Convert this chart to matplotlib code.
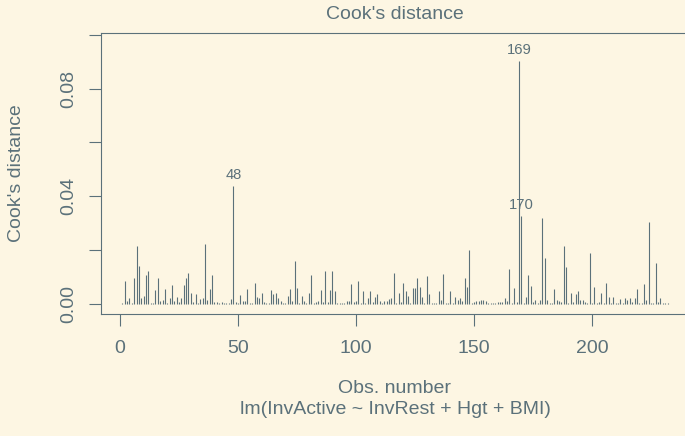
import numpy as np
from matplotlib import pyplot as plt

cooks_d = [
    0.0003, 0.0084, 0.0009, 0.0019, 0.0004, 0.0095, 0.0215, 0.0141, 0.0022, 0.0030,
    0.0105, 0.0122, 0.0004, 0.0002, 0.0052, 0.0096, 0.0011, 0.0012, 0.0056, 0.0004,
    0.0022, 0.0070, 0.0011, 0.0025, 0.0005, 0.0020, 0.0068, 0.0096, 0.0115, 0.0040,
    0.0007, 0.0035, 0.0004, 0.0017, 0.0020, 0.0221, 0.0015, 0.0054, 0.0108, 0.0006,
    0.0007, 0.0001, 0.0006, 0.0002, 0.0001, 0.0002, 0.0016, 0.0437, 0.0006, 0.0001,
    0.0032, 0.0010, 0.0010, 0.0056, 0.0002, 0.0002, 0.0077, 0.0026, 0.0021, 0.0041,
    0.0005, 0.0002, 0.0001, 0.0050, 0.0037, 0.0040, 0.0022, 0.0010, 0.0002, 0.0002,
    0.0030, 0.0054, 0.0010, 0.0160, 0.0059, 0.0004, 0.0030, 0.0011, 0.0002, 0.0040,
    0.0108, 0.0002, 0.0006, 0.0009, 0.0052, 0.0007, 0.0122, 0.0007, 0.0050, 0.0122,
    0.0047, 0.0002, 0.0002, 0.0002, 0.0001, 0.0011, 0.0009, 0.0074, 0.0007, 0.0010,
    0.0084, 0.0004, 0.0048, 0.0002, 0.0019, 0.0045, 0.0006, 0.0024, 0.0037, 0.0011,
    0.0004, 0.0011, 0.0011, 0.0017, 0.0020, 0.0114, 0.0002, 0.0038, 0.0005, 0.0078,
    0.0047, 0.0030, 0.0004, 0.0057, 0.0058, 0.0096, 0.0063, 0.0026, 0.0002, 0.0103,
    0.0035, 0.0002, 0.0002, 0.0002, 0.0045, 0.0015, 0.0109, 0.0002, 0.0001, 0.0048,
    0.0004, 0.0025, 0.0015, 0.0019, 0.0010, 0.0094, 0.0063, 0.0199, 0.0002, 0.0006,
    0.0010, 0.0011, 0.0012, 0.0012, 0.0011, 0.0004, 0.0002, 0.0002, 0.0002, 0.0007,
    0.0005, 0.0006, 0.0022, 0.0010, 0.0130, 0.0002, 0.0057, 0.0006, 0.0902, 0.0325,
    0.0004, 0.0026, 0.0105, 0.0064, 0.0006, 0.0015, 0.0002, 0.0015, 0.0318, 0.0168,
    0.0014, 0.0002, 0.0002, 0.0054, 0.0015, 0.0009, 0.0006, 0.0216, 0.0136, 0.0002,
    0.0041, 0.0006, 0.0036, 0.0045, 0.0015, 0.0014, 0.0006, 0.0004, 0.0188, 0.0004,
    0.0063, 0.0004, 0.0006, 0.0041, 0.0004, 0.0078, 0.0024, 0.0004, 0.0025, 0.0004,
    0.0004, 0.0017, 0.0004, 0.0019, 0.0015, 0.0021, 0.0005, 0.0021, 0.0056, 0.0004,
    0.0004, 0.0072, 0.0015, 0.0303, 0.0002, 0.0002, 0.0152, 0.0007, 0.0022, 0.0001,
    0.0001, 0.0002,
]
x_ticks = [0, 50, 100, 150, 200]
y_ticks = [0.00, 0.02, 0.04, 0.06, 0.08, 0.10]
y_ticklabels = ['0.00', '', '0.04', '', '0.08', '']
title = "Cook's distance"
x_label = 'Obs. number'
caption = 'lm(InvActive ~ InvRest + Hgt + BMI)'
n_labels = 3

bg = '#FDF6E3'
fg = '#5B717A'
plt.rcParams['font.family'] = ['Liberation Sans', 'DejaVu Sans']

cook = np.array(cooks_d)
obs = np.arange(1, len(cook) + 1)

W, H = 685, 436
fig = plt.figure(figsize=(W / 100, H / 100), dpi=100, facecolor=bg)

# R-style plot region (in pixels)
left, top, bottom = 100.6, 32.7, 314.0
xlim = (1 - 0.04 * (len(cook) - 1), len(cook) + 0.04 * (len(cook) - 1))
px_per_obs = 2.36
width = (xlim[1] - xlim[0]) * px_per_obs
ax = fig.add_axes([left / W, 1 - bottom / H, width / W, (bottom - top) / H])
ax.set_facecolor(bg)

ax.vlines(obs, 0, cook, color=fg, linewidth=0.8)

ymax = cook.max() * 1.075
ax.set_xlim(*xlim)
ax.set_ylim(-0.04 * ymax, ymax * 1.04)

for side in ['left', 'bottom', 'top', 'right']:
    ax.spines[side].set_color(fg)
    ax.spines[side].set_linewidth(0.8)

ax.set_xticks(x_ticks)
ax.set_xticklabels([str(t) for t in x_ticks])
ax.set_yticks(y_ticks)
ax.set_yticklabels(y_ticklabels, rotation=90, va='center')
ax.tick_params(colors=fg, length=8.6, width=0.8, labelsize=14)
ax.tick_params(axis='x', pad=10)
ax.tick_params(axis='y', pad=8)

# label the largest values
top_idx = np.argsort(cook)[::-1][:n_labels]
for i in top_idx:
    ax.annotate(str(obs[i]), (obs[i], cook[i]), xytext=(0, 8),
                textcoords='offset points', ha='center', va='center',
                color=fg, fontsize=10.6)

cx = (left + width / 2) / W
fig.text(cx, 1 - 14.7 / H, title, ha='center', va='center', color=fg, fontsize=14)
fig.text(cx, 1 - 388 / H, x_label, ha='center', va='center', color=fg, fontsize=14)
fig.text(cx, 1 - 409 / H, caption, ha='center', va='center', color=fg, fontsize=14)
fig.text(16.6 / W, 1 - (top + bottom) / 2 / H, "Cook's distance", rotation=90,
         ha='center', va='center', color=fg, fontsize=14)

fig.savefig('out.png', dpi=100, facecolor=bg)
